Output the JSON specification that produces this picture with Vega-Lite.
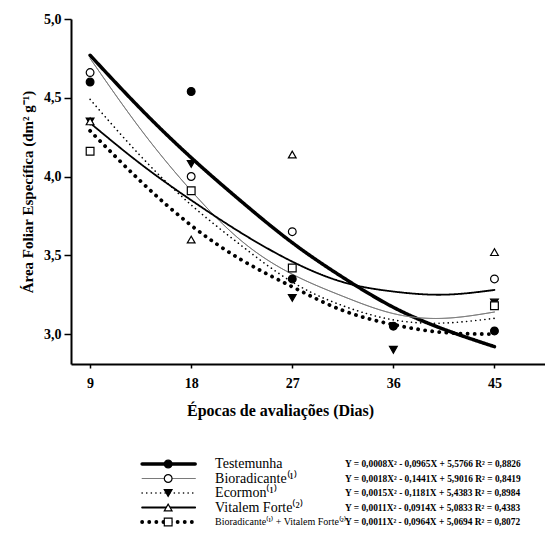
{
  "$schema": "https://vega.github.io/schema/vega-lite/v6.json",
  "background": "white",
  "padding": {"left": 20, "top": 12, "right": 0, "bottom": 0},
  "config": {"view": {"stroke": null}, "font": "Liberation Serif", "concat": {"spacing": 39}},
  "datasets": {
    "curves": [
      {"series": "Testemunha", "day": 9, "value": 4.77}, {"series": "Testemunha", "day": 13.5, "value": 4.43}, {"series": "Testemunha", "day": 18, "value": 4.12}, {"series": "Testemunha", "day": 22.5, "value": 3.84}, {"series": "Testemunha", "day": 27, "value": 3.58}, {"series": "Testemunha", "day": 31.5, "value": 3.36}, {"series": "Testemunha", "day": 36, "value": 3.17}, {"series": "Testemunha", "day": 40.5, "value": 3.03}, {"series": "Testemunha", "day": 45, "value": 2.92},
      {"series": "Bioradicante", "day": 9, "value": 4.75}, {"series": "Bioradicante", "day": 13.5, "value": 4.30}, {"series": "Bioradicante", "day": 18, "value": 3.91}, {"series": "Bioradicante", "day": 22.5, "value": 3.59}, {"series": "Bioradicante", "day": 27, "value": 3.38}, {"series": "Bioradicante", "day": 31.5, "value": 3.24}, {"series": "Bioradicante", "day": 36, "value": 3.13}, {"series": "Bioradicante", "day": 40.5, "value": 3.10}, {"series": "Bioradicante", "day": 45, "value": 3.14},
      {"series": "Ecormon", "day": 9, "value": 4.49}, {"series": "Ecormon", "day": 13.5, "value": 4.13}, {"series": "Ecormon", "day": 18, "value": 3.82}, {"series": "Ecormon", "day": 22.5, "value": 3.56}, {"series": "Ecormon", "day": 27, "value": 3.33}, {"series": "Ecormon", "day": 31.5, "value": 3.18}, {"series": "Ecormon", "day": 36, "value": 3.09}, {"series": "Ecormon", "day": 40.5, "value": 3.07}, {"series": "Ecormon", "day": 45, "value": 3.10},
      {"series": "Vitalem Forte", "day": 9, "value": 4.34}, {"series": "Vitalem Forte", "day": 13.5, "value": 4.08}, {"series": "Vitalem Forte", "day": 18, "value": 3.85}, {"series": "Vitalem Forte", "day": 22.5, "value": 3.64}, {"series": "Vitalem Forte", "day": 27, "value": 3.46}, {"series": "Vitalem Forte", "day": 31.5, "value": 3.33}, {"series": "Vitalem Forte", "day": 36, "value": 3.27}, {"series": "Vitalem Forte", "day": 40.5, "value": 3.25}, {"series": "Vitalem Forte", "day": 45, "value": 3.28},
      {"series": "Bioradicante + Vitalem Forte", "day": 9, "value": 4.29}, {"series": "Bioradicante + Vitalem Forte", "day": 13.5, "value": 3.97}, {"series": "Bioradicante + Vitalem Forte", "day": 18, "value": 3.69}, {"series": "Bioradicante + Vitalem Forte", "day": 22.5, "value": 3.47}, {"series": "Bioradicante + Vitalem Forte", "day": 27, "value": 3.30}, {"series": "Bioradicante + Vitalem Forte", "day": 31.5, "value": 3.15}, {"series": "Bioradicante + Vitalem Forte", "day": 36, "value": 3.06}, {"series": "Bioradicante + Vitalem Forte", "day": 40.5, "value": 3.01}, {"series": "Bioradicante + Vitalem Forte", "day": 45, "value": 3.00}
    ],
    "points": [
      {"series": "Ecormon", "day": 9, "value": 4.35}, {"series": "Ecormon", "day": 18, "value": 4.08}, {"series": "Ecormon", "day": 27, "value": 3.23}, {"series": "Ecormon", "day": 36, "value": 2.90}, {"series": "Ecormon", "day": 45, "value": 3.20},
      {"series": "Vitalem Forte", "day": 9, "value": 4.35}, {"series": "Vitalem Forte", "day": 18, "value": 3.60}, {"series": "Vitalem Forte", "day": 27, "value": 4.14}, {"series": "Vitalem Forte", "day": 45, "value": 3.52},
      {"series": "Bioradicante + Vitalem Forte", "day": 9, "value": 4.16}, {"series": "Bioradicante + Vitalem Forte", "day": 18, "value": 3.91}, {"series": "Bioradicante + Vitalem Forte", "day": 27, "value": 3.42}, {"series": "Bioradicante + Vitalem Forte", "day": 45, "value": 3.18},
      {"series": "Bioradicante", "day": 9, "value": 4.66}, {"series": "Bioradicante", "day": 18, "value": 4.00}, {"series": "Bioradicante", "day": 27, "value": 3.65}, {"series": "Bioradicante", "day": 45, "value": 3.35},
      {"series": "Testemunha", "day": 9, "value": 4.60}, {"series": "Testemunha", "day": 18, "value": 4.54}, {"series": "Testemunha", "day": 27, "value": 3.35}, {"series": "Testemunha", "day": 36, "value": 3.05}, {"series": "Testemunha", "day": 45, "value": 3.02}
    ],
    "legend": [
      {"series": "Testemunha", "label": "Testemunha", "eq": "Y = 0,0008X² - 0,0965X + 5,5766  R² = 0,8826"},
      {"series": "Bioradicante", "label": "Bioradicante⁽¹⁾", "eq": "Y = 0,0018X² - 0,1441X + 5,9016  R² = 0,8419"},
      {"series": "Ecormon", "label": "Ecormon⁽¹⁾", "eq": "Y = 0,0015X² - 0,1181X + 5,4383  R² = 0,8984"},
      {"series": "Vitalem Forte", "label": "Vitalem Forte⁽²⁾", "eq": "Y = 0,0011X² - 0,0914X + 5,0833  R² = 0,4383"},
      {"series": "Bioradicante + Vitalem Forte", "label": "Bioradicante⁽¹⁾ + Vitalem Forte⁽²⁾", "eq": "Y = 0,0011X² - 0,0964X + 5,0694  R² = 0,8072"}
    ]
  },
  "vconcat": [
    {
      "width": 474,
      "height": 345,
      "layer": [
        {
          "data": {"name": "curves"},
          "mark": {"type": "line", "interpolate": "natural", "strokeCap": "round"},
          "encoding": {
            "x": {"field": "day", "type": "quantitative", "scale": {"domain": [7.3, 49.5], "nice": false, "zero": false},
              "axis": {"values": [9, 18, 27, 36, 45], "title": "Épocas de avaliações (Dias)", "grid": false,
                "titleFont": "Liberation Serif", "titleFontSize": 16, "titleFontWeight": "bold", "titleColor": "black", "titlePadding": 12, "titleX": 209,
                "labelFont": "Liberation Serif", "labelFontSize": 14, "labelFontWeight": "bold", "labelColor": "black", "labelPadding": 8,
                "tickSize": 4, "tickColor": "black", "tickWidth": 1.5, "domainColor": "black", "domainWidth": 2}},
            "y": {"field": "value", "type": "quantitative", "scale": {"domain": [2.81, 5.0], "nice": false, "zero": false},
              "axis": {"values": [3, 3.5, 4, 4.5, 5], "labelExpr": "replace(format(datum.value, '.1f'), '.', ',')", "title": "Área Foliar Específica (dm² g⁻¹)", "grid": false,
                "titleFont": "Liberation Serif", "titleFontSize": 15, "titleFontWeight": "bold", "titleColor": "black", "titlePadding": 8,
                "labelFont": "Liberation Serif", "labelFontSize": 14, "labelFontWeight": "bold", "labelColor": "black", "labelPadding": 3,
                "tickSize": 7, "tickColor": "black", "tickWidth": 1.5, "domainColor": "black", "domainWidth": 2}},
            "detail": {"field": "series"},
            "color": {"field": "series", "type": "nominal", "legend": null,
              "scale": {"domain": ["Testemunha", "Bioradicante", "Ecormon", "Vitalem Forte", "Bioradicante + Vitalem Forte"], "range": ["#000000", "#7a7a7a", "#000000", "#000000", "#000000"]}},
            "strokeWidth": {"field": "series", "type": "nominal", "legend": null,
              "scale": {"type": "ordinal", "domain": ["Testemunha", "Bioradicante", "Ecormon", "Vitalem Forte", "Bioradicante + Vitalem Forte"], "range": [3.5, 1, 1.6, 1.8, 3.8]}},
            "strokeDash": {"field": "series", "type": "nominal", "legend": null,
              "scale": {"type": "ordinal", "domain": ["Testemunha", "Bioradicante", "Ecormon", "Vitalem Forte", "Bioradicante + Vitalem Forte"], "range": [[1, 0], [1, 0], [0.1, 4.5], [1, 0], [0.1, 7]]}}
          }
        },
        {
          "data": {"name": "points"},
          "mark": {"type": "point", "filled": true, "stroke": "black", "strokeWidth": 1.2, "size": 60, "opacity": 1},
          "encoding": {
            "x": {"field": "day", "type": "quantitative"},
            "y": {"field": "value", "type": "quantitative"},
            "shape": {"field": "series", "type": "nominal", "legend": null,
              "scale": {"domain": ["Testemunha", "Bioradicante", "Ecormon", "Vitalem Forte", "Bioradicante + Vitalem Forte"], "range": ["circle", "circle", "triangle-down", "triangle-up", "square"]}},
            "fill": {"field": "series", "type": "nominal", "legend": null,
              "scale": {"domain": ["Testemunha", "Bioradicante", "Ecormon", "Vitalem Forte", "Bioradicante + Vitalem Forte"], "range": ["#000000", "#ffffff", "#000000", "#ffffff", "#ffffff"]}}
          }
        },
        {
          "mark": {"type": "rule", "stroke": "black", "strokeWidth": 2},
          "encoding": {"x": {"datum": 6.5}, "y": {"datum": 2.848}, "x2": {"datum": 8.1}, "y2": {"datum": 2.95}}
        },
        {
          "mark": {"type": "rule", "stroke": "black", "strokeWidth": 2},
          "encoding": {"x": {"datum": 6.85}, "y": {"datum": 2.804}, "x2": {"datum": 8.46}, "y2": {"datum": 2.905}}
        },
        {
          "mark": {"type": "rule", "stroke": "black", "strokeWidth": 2},
          "encoding": {"x": {"datum": 7.48}, "y": {"datum": 2.753}, "x2": {"datum": 8.99}, "y2": {"datum": 2.854}}
        },
        {
          "mark": {"type": "rule", "stroke": "black", "strokeWidth": 2},
          "encoding": {"x": {"datum": 8.1}, "y": {"datum": 2.753}, "x2": {"datum": 9.62}, "y2": {"datum": 2.854}}
        }
      ]
    },
    {
      "width": 474,
      "height": 58,
      "data": {"name": "legend"},
      "encoding": {
        "y": {"field": "series", "type": "ordinal", "sort": ["Testemunha", "Bioradicante", "Ecormon", "Vitalem Forte", "Bioradicante + Vitalem Forte"], "scale": {"type": "point", "padding": 0}, "axis": null}
      },
      "layer": [
        {
          "mark": {"type": "rule", "strokeCap": "round"},
          "encoding": {
            "x": {"datum": 15, "type": "quantitative", "scale": {"domain": [0, 100]}, "axis": null},
            "x2": {"datum": 26.2},
            "color": {"field": "series", "type": "nominal", "legend": null,
              "scale": {"domain": ["Testemunha", "Bioradicante", "Ecormon", "Vitalem Forte", "Bioradicante + Vitalem Forte"], "range": ["#000000", "#7a7a7a", "#000000", "#000000", "#000000"]}},
            "strokeWidth": {"field": "series", "type": "nominal", "legend": null,
              "scale": {"type": "ordinal", "domain": ["Testemunha", "Bioradicante", "Ecormon", "Vitalem Forte", "Bioradicante + Vitalem Forte"], "range": [3.5, 1, 1.6, 1.8, 3.8]}},
            "strokeDash": {"field": "series", "type": "nominal", "legend": null,
              "scale": {"type": "ordinal", "domain": ["Testemunha", "Bioradicante", "Ecormon", "Vitalem Forte", "Bioradicante + Vitalem Forte"], "range": [[1, 0], [1, 0], [0.1, 4.5], [1, 0], [0.1, 7]]}}
          }
        },
        {
          "mark": {"type": "point", "filled": true, "stroke": "black", "strokeWidth": 1.2, "size": 60, "opacity": 1},
          "encoding": {
            "x": {"datum": 20.5, "type": "quantitative"},
            "shape": {"field": "series", "type": "nominal", "legend": null,
              "scale": {"domain": ["Testemunha", "Bioradicante", "Ecormon", "Vitalem Forte", "Bioradicante + Vitalem Forte"], "range": ["circle", "circle", "triangle-down", "triangle-up", "square"]}},
            "fill": {"field": "series", "type": "nominal", "legend": null,
              "scale": {"domain": ["Testemunha", "Bioradicante", "Ecormon", "Vitalem Forte", "Bioradicante + Vitalem Forte"], "range": ["#000000", "#ffffff", "#000000", "#ffffff", "#ffffff"]}}
          }
        },
        {
          "mark": {"type": "text", "align": "left", "baseline": "middle", "font": "Liberation Serif", "color": "black"},
          "encoding": {
            "x": {"datum": 30.4, "type": "quantitative"},
            "text": {"field": "label"},
            "size": {"field": "series", "type": "nominal", "legend": null,
              "scale": {"type": "ordinal", "domain": ["Testemunha", "Bioradicante", "Ecormon", "Vitalem Forte", "Bioradicante + Vitalem Forte"], "range": [14, 14, 14, 14, 10]}}
          }
        },
        {
          "mark": {"type": "text", "align": "left", "baseline": "middle", "font": "Liberation Serif", "fontSize": 9.4, "fontWeight": "bold", "color": "black"},
          "encoding": {"x": {"datum": 57.8, "type": "quantitative"}, "text": {"field": "eq"}}
        }
      ]
    }
  ]
}
